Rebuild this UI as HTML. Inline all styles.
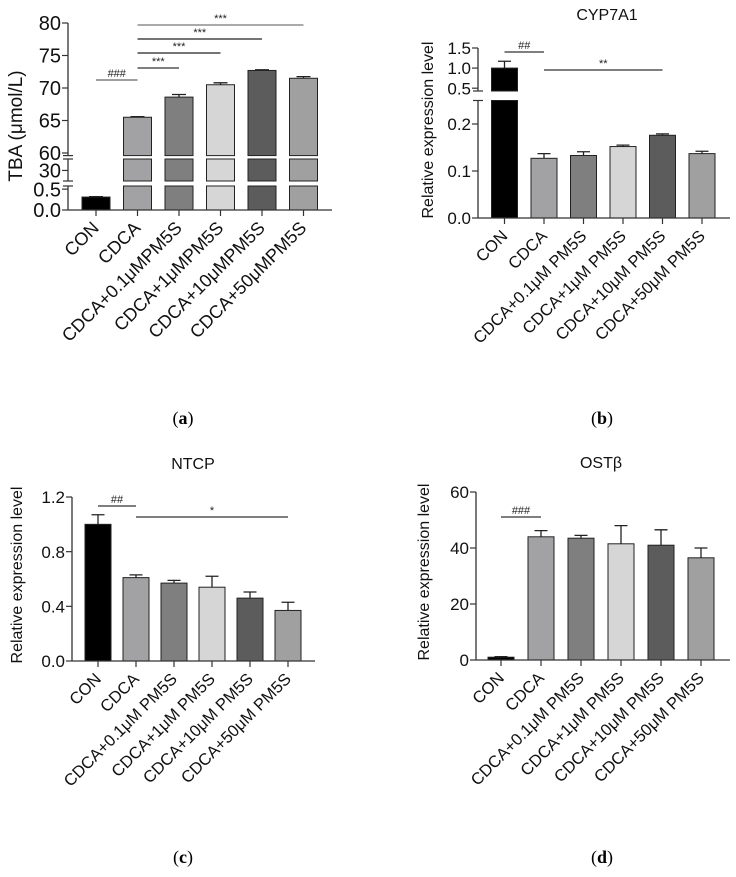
<!DOCTYPE html>
<html><head><meta charset="utf-8">
<style>
html,body{margin:0;padding:0;background:#fff;}
svg{display:block;font-family:"Liberation Sans",Arial,sans-serif;}
</style></head>
<body>
<svg id="fig" width="736" height="877" viewBox="0 0 736 877" xmlns="http://www.w3.org/2000/svg">
<text x="183" y="424" font-family="Liberation Serif" font-size="18" text-anchor="middle">(<tspan font-weight="bold">a</tspan>)</text>
<text x="602" y="424" font-family="Liberation Serif" font-size="18" text-anchor="middle">(<tspan font-weight="bold">b</tspan>)</text>
<text x="183" y="863" font-family="Liberation Serif" font-size="18" text-anchor="middle">(<tspan font-weight="bold">c</tspan>)</text>
<text x="602" y="863" font-family="Liberation Serif" font-size="18" text-anchor="middle">(<tspan font-weight="bold">d</tspan>)</text>
</svg>
<script>
// ---- data ----
const colors = ["#000000","#a2a2a4","#7f7f7f","#d6d6d6","#5c5c5c","#a0a0a0"];
const labelsA = ["CON","CDCA","CDCA+0.1μMPM5S","CDCA+1μMPM5S","CDCA+10μMPM5S","CDCA+50μMPM5S"];
const labelsB = ["CON","CDCA","CDCA+0.1μM PM5S","CDCA+1μM PM5S","CDCA+10μM PM5S","CDCA+50μM PM5S"];
const tbaValues = [0.31, 65.5, 68.6, 70.5, 72.7, 71.5];
const tbaErrors = [0.01, 0.1, 0.4, 0.3, 0.1, 0.25];
const tbaTicks = [0, 0.5, 30, 60, 65, 70, 75, 80];
const tbaTickLabels = ["0.0","0.5","30","60","65","70","75","80"];
const cypValues = [1.0, 0.127, 0.133, 0.152, 0.176, 0.137];
const cypErrors = [0.17, 0.01, 0.008, 0.003, 0.003, 0.005];
const cypTicks = [0, 0.1, 0.2, 0.5, 1.0, 1.5];
const cypTickLabels = ["0.0","0.1","0.2","0.5","1.0","1.5"];
const ntcpValues = [1.0, 0.61, 0.57, 0.54, 0.46, 0.37];
const ntcpErrors = [0.07, 0.02, 0.02, 0.08, 0.045, 0.06];
const ntcpTicks = [0, 0.4, 0.8, 1.2];
const ntcpTickLabels = ["0.0","0.4","0.8","1.2"];
const ostValues = [1, 44, 43.5, 41.5, 41, 36.5];
const ostErrors = [0.2, 2.2, 1, 6.5, 5.5, 3.5];
const ostTicks = [0, 20, 40, 60];
const ostTickLabels = ["0","20","40","60"];

const NS="http://www.w3.org/2000/svg";
const svg=document.getElementById('fig');
function mk(tag,attrs,parent){const e=document.createElementNS(NS,tag);for(const k in attrs)e.setAttribute(k,attrs[k]);(parent||svg).appendChild(e);return e;}

function panel(cfg){
  const g=mk('g',{});
  
  
  const segs=cfg.segs;
  function segOf(v){for(const s of segs){if(v>=s.lo-1e-9&&v<=s.hi+1e-9)return s;}return null;}
  function yOf(v){const s=segOf(v);if(s)return s.yb-(v-s.lo)/(s.hi-s.lo)*(s.yb-s.yt);
    for(let i=segs.length-1;i>=0;i--){if(v>segs[i].hi)return segs[i].yt;}return segs[0].yb;}
  const xOf=i=>cfg.x0+i*cfg.step;
  const bw=cfg.bw;
  cfg.values.forEach((v,i)=>{
    const x=xOf(i)-bw/2;
    segs.forEach(s=>{
      if(v<=s.lo)return;
      const top=v>=s.hi?s.yt:yOf(v);
      const r=mk('rect',{x:x,y:top,width:bw,height:s.yb-top,fill:cfg.colors[i],stroke:'#222','stroke-width':1},g);
      
      
    });
    const e=cfg.errors[i];
    if(segOf(v+e)){
      const y1=yOf(v),y2=yOf(v+e);
      const eb=mk('path',{d:`M${xOf(i)} ${y1}V${y2}M${xOf(i)-bw/4} ${y2}H${xOf(i)+bw/4}`,stroke:'#222','stroke-width':1.3,fill:'none'},g);
      
      
    }
  });
  segs.forEach(s=>{mk('line',{x1:cfg.ax,x2:cfg.ax,y1:s.yb,y2:s.yt,stroke:'#333','stroke-width':1.3},g);});
  segs.forEach((s,k)=>{if(k>0){mk('line',{x1:cfg.ax-5,x2:cfg.ax+5,y1:s.yb,y2:s.yb,stroke:'#333','stroke-width':1.2},g);} if(k<segs.length-1){mk('line',{x1:cfg.ax-5,x2:cfg.ax+5,y1:s.yt,y2:s.yt,stroke:'#333','stroke-width':1.2},g);}});
  const xa=mk('line',{x1:cfg.ax,x2:cfg.xend,y1:segs[0].yb,y2:segs[0].yb,stroke:'#333','stroke-width':1.3},g);
  
  
  cfg.ticks.forEach((t,i)=>{
    const y=yOf(t);
    mk('line',{x1:cfg.ax-6,x2:cfg.ax,y1:y,y2:y,stroke:'#333','stroke-width':1.2},g);
    const tl=mk('text',{x:cfg.ax-7,y:y+cfg.tfs*0.36,'font-size':cfg.tfs,'text-anchor':'end',fill:'#111'},g);
    tl.textContent=cfg.tickLabels[i];
    
    
  });
  cfg.labels.forEach((l,i)=>{
    const x=xOf(i),y0=segs[0].yb;
    mk('line',{x1:x,x2:x,y1:y0,y2:y0+6,stroke:'#333','stroke-width':1.2},g);
    const t=mk('text',{x:x+4,y:y0+19,'font-size':cfg.lfs,'text-anchor':'end',fill:'#111',transform:`rotate(-45 ${x+4} ${y0+19})`},g);
    t.textContent=l;
    
    
  });
  const yl=mk('text',{x:cfg.ylx,y:cfg.yly,'font-size':cfg.ylfs,'text-anchor':'middle',fill:'#111',transform:`rotate(-90 ${cfg.ylx} ${cfg.yly})`},g);
  yl.textContent=cfg.ylabel;
  
  
  if(cfg.title){const tt=mk('text',{x:cfg.tx,y:cfg.ty,'font-size':16,'text-anchor':'middle',fill:'#111'},g);tt.textContent=cfg.title;
    
    }
  cfg.sig.forEach(s=>{
    const x1=xOf(s[0]),x2=xOf(s[1]);
    mk('line',{x1:x1,x2:x2,y1:s[2],y2:s[2],stroke:s[4]||'#555','stroke-width':1.2},g);
    const st=mk('text',{x:(x1+x2)/2,y:s[2]-3,'font-size':11,'text-anchor':'middle',fill:'#222'},g);
    st.textContent=s[3];
    
    
  });
}

panel({name:'panel-a-tba',values:tbaValues,errors:tbaErrors,colors:colors,labels:labelsA,ticks:tbaTicks,tickLabels:tbaTickLabels,
  segs:[{lo:0,hi:0.575,yb:210,yt:186},{lo:24,hi:36.5,yb:181,yt:159},{lo:59.6,hi:80,yb:155.6,yt:23}],
  x0:96,step:41.5,bw:28,ax:68,xend:332,tfs:20,lfs:18,ylx:22,yly:126,ylfs:19,ylabel:'TBA (μmol/L)',
  sig:[[0,1,80,'###','#666'],[1,2,68,'***','#333'],[1,3,53,'***','#222'],[1,4,39,'***','#222'],[1,5,25,'***','#777']]});

panel({name:'panel-b-cyp7a1',values:cypValues,errors:cypErrors,colors:colors,labels:labelsB,ticks:cypTicks,tickLabels:cypTickLabels,
  segs:[{lo:0,hi:0.25,yb:218,yt:100.5},{lo:0.43,hi:1.5,yb:91,yt:48}],
  x0:504.5,step:39.5,bw:26,ax:478,xend:730,tfs:17,lfs:16.5,ylx:433,yly:130,ylfs:16,ylabel:'Relative expression level',
  title:'CYP7A1',tx:607,ty:20,
  sig:[[0,1,52,'##','#333'],[1,4,70,'**','#333']]});

panel({name:'panel-c-ntcp',values:ntcpValues,errors:ntcpErrors,colors:colors,labels:labelsB,ticks:ntcpTicks,tickLabels:ntcpTickLabels,
  segs:[{lo:0,hi:1.2,yb:661,yt:497}],
  x0:98,step:38,bw:26,ax:72,xend:315,tfs:17,lfs:16.5,ylx:22,yly:575,ylfs:16,ylabel:'Relative expression level',
  title:'NTCP',tx:193,ty:469,
  sig:[[0,1,506,'##','#333'],[1,5,517,'*','#333']]});

panel({name:'panel-d-ostb',values:ostValues,errors:ostErrors,colors:colors,labels:labelsB,ticks:ostTicks,tickLabels:ostTickLabels,
  segs:[{lo:0,hi:60,yb:660,yt:492}],
  x0:501,step:40,bw:26,ax:476,xend:730,tfs:17,lfs:16.5,ylx:429,yly:572,ylfs:16,ylabel:'Relative expression level',
  title:'OSTβ',tx:601,ty:468,
  sig:[[0,1,517,'###','#333']]});
</script>
</body></html>
